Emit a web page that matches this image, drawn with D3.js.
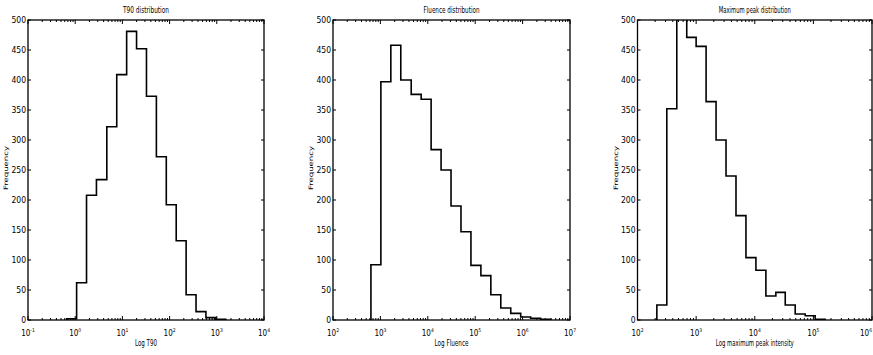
<!DOCTYPE html>
<html>
<head>
<meta charset="utf-8">
<script src="https://cdn.jsdelivr.net/npm/d3@7"></script>
<style>
  body { margin: 0; background: #fff; }
  svg text { font-family: "Liberation Sans Narrow", "DejaVu Sans Condensed", "Liberation Sans", sans-serif; fill: #000; }
  .frame { fill: none; stroke: #000; stroke-width: 1.3; }
  .hist { fill: none; stroke: #000; stroke-width: 1.6; stroke-linejoin: miter; }
</style>
</head>
<body>
<svg id="chart"></svg>
<script>
// Bin edges are log10 of the x value, counts are bin frequencies
const t90Edges = [-0.18, 0.03, 0.24, 0.45, 0.67, 0.88, 1.09, 1.30, 1.51, 1.72, 1.93, 2.14, 2.35, 2.56, 2.77, 2.98, 3.19];
const t90Counts = [2, 62, 208, 234, 322, 409, 481, 452, 373, 272, 192, 132, 42, 14, 4, 1];

const fluenceEdges = [2.80, 3.01, 3.22, 3.43, 3.65, 3.86, 4.07, 4.28, 4.49, 4.70, 4.91, 5.12, 5.33, 5.54, 5.75, 5.96, 6.17, 6.38, 6.59];
const fluenceCounts = [92, 397, 458, 400, 376, 368, 284, 250, 190, 147, 91, 74, 42, 20, 11, 5, 3, 1];

const peakEdges = [2.33, 2.50, 2.67, 2.84, 3.00, 3.17, 3.34, 3.51, 3.68, 3.85, 4.02, 4.19, 4.36, 4.52, 4.69, 4.86, 5.03, 5.20];
const peakCounts = [25, 352, 540, 471, 456, 364, 300, 240, 174, 104, 83, 40, 46, 25, 10, 7, 1];

const yTicks = [0, 50, 100, 150, 200, 250, 300, 350, 400, 450, 500];

const panels = [
  { title: 'T90 distribution', xlabel: 'Log T90', domain: [1e-1, 1e4],
    edges: t90Edges, counts: t90Counts, left: 28, right: 264, titleW: 46, xlabelW: 22 },
  { title: 'Fluence distribution', xlabel: 'Log Fluence', domain: [1e2, 1e7],
    edges: fluenceEdges, counts: fluenceCounts, left: 333, right: 570, titleW: 56, xlabelW: 34 },
  { title: 'Maximum peak distribution', xlabel: 'Log maximum peak intensity', domain: [1e2, 1e6],
    edges: peakEdges, counts: peakCounts, left: 637.5, right: 872, titleW: 72, xlabelW: 78 }
];

const width = 873, height = 355;
const plotTop = 20, plotBottom = 320;

const svg = d3.select('#chart')
  .attr('width', width)
  .attr('height', height);

panels.forEach((p, i) => {
  const x = d3.scaleLog().domain(p.domain).range([p.left, p.right]);
  const y = d3.scaleLinear().domain([0, 500]).range([plotBottom, plotTop]);
  const g = svg.append('g');

  // clip so bins taller than 500 get cut at the frame
  const clipId = 'clip' + i;
  g.append('clipPath').attr('id', clipId)
    .append('rect')
    .attr('x', p.left).attr('y', plotTop)
    .attr('width', p.right - p.left).attr('height', plotBottom - plotTop);

  // histogram outline as a step line (no inner bar edges)
  const pts = [{ e: p.edges[0], c: 0 }]
    .concat(p.edges.map((e, k) => ({ e, c: k < p.counts.length ? p.counts[k] : 0 })));
  const step = d3.line()
    .x(d => x(Math.pow(10, d.e)))
    .y(d => y(d.c))
    .curve(d3.curveStepAfter);
  g.append('path')
    .attr('class', 'hist')
    .attr('clip-path', `url(#${clipId})`)
    .attr('d', step(pts));

  // log ticks, inward on bottom and top
  const decades = d3.range(Math.log10(p.domain[0]), Math.log10(p.domain[1]) + 1);
  const allTicks = x.ticks();
  const isMajor = v => Math.abs(Math.log10(v) - Math.round(Math.log10(v))) < 1e-9;

  [plotBottom, plotTop].forEach(yy => {
    const dir = yy === plotBottom ? -1 : 1;
    g.append('g').selectAll('line')
      .data(allTicks)
      .join('line')
      .attr('x1', d => x(d)).attr('x2', d => x(d))
      .attr('y1', yy)
      .attr('y2', d => yy + dir * (isMajor(d) ? 4 : 2))
      .attr('stroke', '#000')
      .attr('stroke-width', 1);
  });

  // y ticks, inward on left and right
  [[p.left, 1], [p.right, -1]].forEach(([xx, dir]) => {
    g.append('g').selectAll('line')
      .data(yTicks)
      .join('line')
      .attr('x1', xx).attr('x2', xx + dir * 3)
      .attr('y1', d => y(d)).attr('y2', d => y(d))
      .attr('stroke', '#000')
      .attr('stroke-width', 1);
  });

  // y tick labels
  g.append('g').selectAll('text')
    .data(yTicks)
    .join('text')
    .attr('x', p.left - 2)
    .attr('y', d => y(d) + 3)
    .attr('text-anchor', 'end')
    .style('font-size', '8.5px')
    .text(d => d);

  // x tick labels as 10^n; the last one is kept inside the page
  const xl = g.append('g').selectAll('text')
    .data(decades)
    .join('text')
    .attr('x', d => Math.min(x(Math.pow(10, d)), width - 1))
    .attr('y', 336)
    .attr('text-anchor', d => x(Math.pow(10, d)) > width - 8 ? 'end' : 'middle')
    .style('font-size', '8px');
  xl.append('tspan').text('10');
  xl.append('tspan')
    .attr('dy', -4)
    .style('font-size', '5px')
    .text(d => d);

  // frame
  g.append('rect')
    .attr('class', 'frame')
    .attr('x', p.left).attr('y', plotTop)
    .attr('width', p.right - p.left).attr('height', plotBottom - plotTop);

  const cx = (p.left + p.right) / 2;

  // title
  g.append('text')
    .attr('x', cx).attr('y', 13)
    .attr('text-anchor', 'middle')
    .attr('textLength', p.titleW)
    .attr('lengthAdjust', 'spacingAndGlyphs')
    .style('font-size', '8px')
    .text(p.title);

  // x label
  g.append('text')
    .attr('x', cx).attr('y', 346)
    .attr('text-anchor', 'middle')
    .attr('textLength', p.xlabelW)
    .attr('lengthAdjust', 'spacingAndGlyphs')
    .style('font-size', '8px')
    .text(p.xlabel);

  // y label
  g.append('text')
    .attr('transform', `translate(${p.left - 20},168) rotate(-90)`)
    .attr('text-anchor', 'middle')
    .attr('textLength', 44)
    .attr('lengthAdjust', 'spacingAndGlyphs')
    .style('font-size', '6px')
    .text('Frequency');
});
</script>
</body>
</html>
